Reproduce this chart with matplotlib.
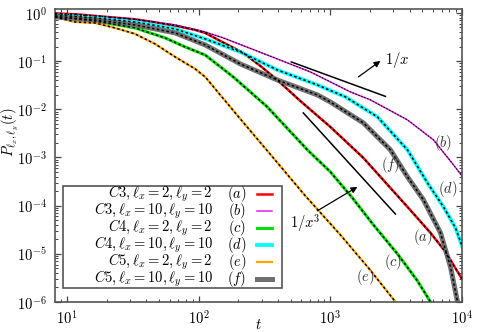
import math
import matplotlib
matplotlib.use("Agg")
import matplotlib.pyplot as plt
from matplotlib.lines import Line2D
from matplotlib.patches import Rectangle
from matplotlib.ticker import LogLocator, FuncFormatter, NullFormatter

plt.rcParams['mathtext.fontset'] = 'cm'
plt.rcParams['font.family'] = ['DejaVu Serif']

# curve values (t, P)
t_a = [8.1, 11.5, 16.3, 23.2, 32.9, 46.7, 66.3, 94.1, 112, 146, 218, 294, 395, 591, 1000, 1782, 3852, 5761, 7492, 10090]
p_a = [0.98, 0.94, 0.87, 0.80, 0.74, 0.64, 0.545, 0.444, 0.385, 0.262, 0.148, 0.0795, 0.0407, 0.0149, 0.00431, 0.00098, 9.44e-5, 2.73e-5, 1.10e-5, 2.89e-6]

t_b = [8.1, 16.3, 32.9, 66.3, 112, 154, 332, 705, 1419, 2015, 3852, 6072, 8617, 10260]
p_b = [0.953, 0.867, 0.733, 0.564, 0.403, 0.303, 0.134, 0.0597, 0.0230, 0.0157, 0.00603, 0.00232, 0.000702, 0.000377]

t_c = [8.1, 16.3, 32.9, 55.6, 78.9, 112, 183, 332, 669, 1000, 1470, 2123, 3232, 4587, 5761, 6000]
p_c = [0.845, 0.682, 0.488, 0.303, 0.197, 0.134, 0.0470, 0.0112, 0.00144, 0.000503, 0.000145, 4.0e-5, 1.0e-5, 2.75e-6, 1.01e-6, 8e-7]

t_d = [8.1, 16.3, 32.9, 66.3, 112, 207, 395, 796, 1301, 2278, 3852, 5466, 7234, 8925, 10260]
p_d = [0.909, 0.788, 0.650, 0.466, 0.289, 0.155, 0.0657, 0.0321, 0.0181, 0.00696, 0.00144, 0.000297, 9.44e-5, 3.46e-5, 1.21e-5]

t_e = [8.1, 11.5, 16.3, 23.2, 32.9, 46.7, 66.3, 94.1, 112, 207, 369, 645, 1191, 1945, 3121, 3250]
p_e = [0.826, 0.650, 0.620, 0.488, 0.367, 0.227, 0.122, 0.0689, 0.0470, 0.00632, 0.00098, 0.00016, 2.48e-5, 5.12e-6, 1.01e-6, 8e-7]

t_f = [8.1, 16.3, 32.9, 66.3, 112, 207, 395, 796, 1000, 1782, 2860, 3852, 5096, 6864, 8177, 9244, 9500]
p_f = [0.826, 0.716, 0.564, 0.385, 0.217, 0.0875, 0.0407, 0.0199, 0.0142, 0.00522, 0.00144, 0.000396, 0.000132, 2.73e-5, 5.37e-6, 1.01e-6, 7e-7]

# guide lines 1/x and 1/x^3
guide1_t = [505, 2620]
guide1_c = 48.6
guide3_t = [623, 3121]
guide3_c = 0.00842 * 623 ** 3

labels = [r'$C3, \ell_x = 2, \ell_y = 2$', r'$C3, \ell_x = 10, \ell_y = 10$',
          r'$C4, \ell_x = 2, \ell_y = 2$', r'$C4, \ell_x = 10, \ell_y = 10$',
          r'$C5, \ell_x = 2, \ell_y = 2$', r'$C5, \ell_x = 10, \ell_y = 10$']
tags = ['a', 'b', 'c', 'd', 'e', 'f']
colors = ['#ff0000', '#e020e0', '#00e000', '#00ffff', '#ffa500', '#707070']
widths = [1.8, 1.1, 2.2, 2.7, 1.6, 3.6]
series = [(t_a, p_a), (t_b, p_b), (t_c, p_c), (t_d, p_d), (t_e, p_e), (t_f, p_f)]

FS = 10.5

fig = plt.figure(figsize=(4.78, 3.32), dpi=100)
ax = fig.add_axes([0.1151, 0.0904, 0.8514, 0.881])

for (t, p), c, w in zip(series, colors, widths):
    ax.plot(t, p, color=c, lw=w, solid_capstyle='butt', zorder=2)
for (t, p), w in zip(series, widths):
    ax.plot(t, p, color='black', lw=1.1 if w > 1.5 else 0.7, ls=(0, (1.6, 1.6)), zorder=3)

ax.plot(guide1_t, [guide1_c / t for t in guide1_t], color='black', lw=1.1, zorder=4)
ax.plot(guide3_t, [guide3_c / t ** 3 for t in guide3_t], color='black', lw=1.1, zorder=4)

arrow = dict(arrowstyle='-|>', color='black', lw=0.9, mutation_scale=9, shrinkA=0, shrinkB=0)
ax.annotate('', xy=(2400, 0.101), xytext=(1633, 0.047), arrowprops=arrow)
ax.annotate('', xy=(1605, 2.45e-4), xytext=(796, 7.8e-5), arrowprops=arrow)
ax.text(2620, 0.106, r'$1/x$', fontsize=FS, ha='left', va='center')
ax.text(646, 4.4e-5, r'$1/x^3$', fontsize=FS, ha='center', va='center')

tag_pos = {'a': (5006, 2.25e-5), 'b': (7230, 0.00201), 'c': (3013, 6.8e-6),
           'd': (7760, 2.23e-4), 'e': (1845, 3.33e-6), 'f': (2850, 7.02e-4)}
for k, (x, y) in tag_pos.items():
    ax.text(x, y, r'$(%s)$' % k, fontsize=FS, ha='center', va='center', color='#333333', zorder=5)

ax.set_xscale('log')
ax.set_yscale('log')
ax.set_xlim(8.1, 1e4)
ax.set_ylim(1e-6, 1.18)

fmt = FuncFormatter(lambda v, pos: r'$10^{%d}$' % round(math.log10(v)))
for axis in (ax.xaxis, ax.yaxis):
    axis.set_major_locator(LogLocator(base=10, numticks=20))
    axis.set_minor_locator(LogLocator(base=10, subs=range(2, 10), numticks=20))
    axis.set_major_formatter(fmt)
    axis.set_minor_formatter(NullFormatter())
ax.tick_params(which='both', direction='in', top=True, right=True, color='#444444', labelsize=FS)
ax.tick_params(which='major', length=4.5, width=0.9)
ax.tick_params(which='minor', length=2.5, width=0.7)
ax.tick_params(axis='y', pad=6)
ax.tick_params(axis='x', pad=5)
for s in ax.spines.values():
    s.set_color('#555555')
    s.set_linewidth(1.2)

ax.set_xlabel(r'$t$', fontsize=FS)
ax.xaxis.set_label_coords(0.5, -0.055)
ax.set_ylabel(r'$P_{\ell_x,\ell_y}(t)$', fontsize=FS)
ax.yaxis.set_label_coords(-0.085, 0.58)

# legend drawn in gnuplot style: right aligned text, tag, line sample
ax.add_patch(Rectangle((0.0197, 0.0479), 0.538, 0.3487, transform=ax.transAxes,
                       facecolor='white', edgecolor='#555555', lw=1.2, zorder=6))
rows = [0.369, 0.311, 0.253, 0.195, 0.137, 0.079]
for lab, tg, c, w, ry in zip(labels, tags, colors, widths, rows):
    ax.text(0.388, ry, lab, transform=ax.transAxes, ha='right', va='center', fontsize=FS, zorder=7)
    ax.text(0.447, ry, r'$(%s)$' % tg, transform=ax.transAxes, ha='center', va='center', fontsize=FS, zorder=7)
    ax.add_line(Line2D([0.496, 0.533], [ry, ry], transform=ax.transAxes, color=c, lw=w, zorder=7))

fig.savefig('out.png', dpi=100)
